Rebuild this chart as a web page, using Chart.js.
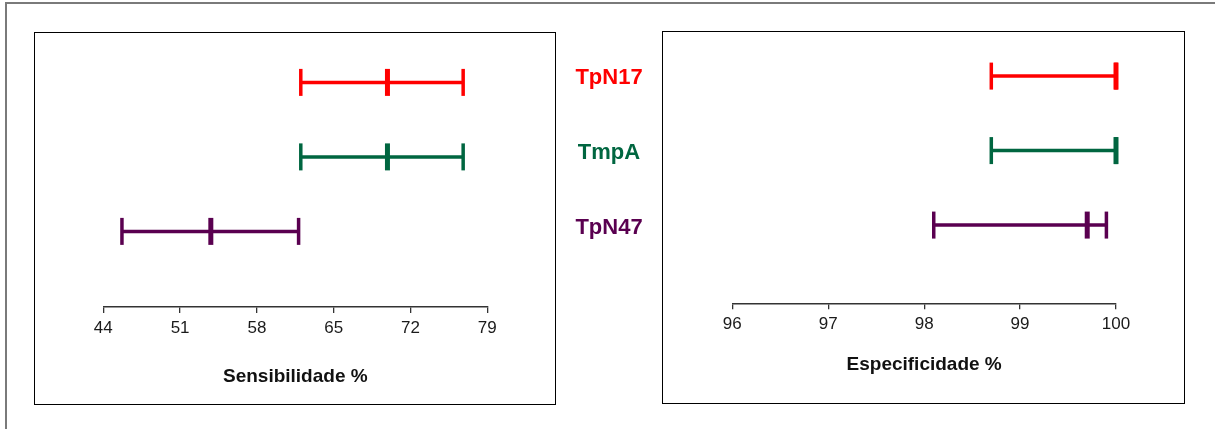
<!DOCTYPE html>
<html>
<head>
<meta charset="utf-8">
<script src="https://cdn.jsdelivr.net/npm/chart.js@4.4.1/dist/chart.umd.min.js"></script>
<style>
  html, body { margin: 0; padding: 0; background: #fff; }
  body { width: 1215px; height: 429px; position: relative; overflow: hidden; font-family: "Liberation Sans", Arial, sans-serif; }
  .frame { position: absolute; left: 5px; top: 2px; width: 1300px; height: 500px; border-left: 2px solid #7a7a7a; border-top: 2px solid #7a7a7a; }
  .panel { position: absolute; border: 1px solid #000; box-sizing: border-box; }
  canvas { position: absolute; left: 0; top: 0; }
  .lbl { position: absolute; width: 140px; margin-left: -70px; text-align: center; font-weight: bold; font-size: 22px; line-height: 22px; margin-top: -12px; font-family: "Liberation Sans", Arial, sans-serif; }
</style>
</head>
<body>
<div class="frame"></div>
<div class="panel" style="left:34px;top:32px;width:522px;height:373px;"></div>
<div class="panel" style="left:662px;top:31px;width:523px;height:373px;"></div>
<canvas id="c1" width="1215" height="429"></canvas>
<canvas id="c2" width="1215" height="429"></canvas>
<div id="labels"></div>
<script>
// ---- data ----
const categories = ['TpN17', 'TmpA', 'TpN47'];
const colors = ['#FF0000', '#006640', '#5A0050'];
const rowPos = [3, 2, 1];
const sensLow = [62.0, 62.0, 45.7];
const sensPoint = [69.9, 69.9, 53.8];
const sensHigh = [76.8, 76.8, 61.8];
const specLow = [98.7, 98.7, 98.1];
const specPoint = [100, 100, 99.7];
const specHigh = [100, 100, 99.9];
const sensTicks = [44, 51, 58, 65, 72, 79];
const specTicks = [96, 97, 98, 99, 100];
const sensTitle = 'Sensibilidade %';
const specTitle = 'Especificidade %';

const FONT = '"Liberation Sans", Arial, sans-serif';

function makeDatasets(low, pt, high) {
  return categories.map((c, i) => ({
    label: c,
    data: [
      { x: low[i], y: rowPos[i] },
      { x: pt[i], y: rowPos[i] },
      { x: high[i], y: rowPos[i] }
    ],
    borderColor: colors[i],
    backgroundColor: colors[i],
    borderWidth: 3.5,
    borderCapStyle: 'butt',
    pointStyle: 'line',
    pointRotation: 90,
    pointRadius: 13.5,
    pointHoverRadius: 13.5,
    pointBorderWidth: [3.5, 5, 3.5],
    pointBorderColor: colors[i],
    pointBackgroundColor: colors[i],
    fill: false,
    tension: 0,
    clip: false
  }));
}

function makeChart(id, low, pt, high, ticks, title, pad, yMin, titlePad) {
  return new Chart(document.getElementById(id), {
    type: 'line',
    data: { datasets: makeDatasets(low, pt, high) },
    options: {
      responsive: false,
      animation: false,
      devicePixelRatio: 1,
      events: [],
      layout: { padding: pad, autoPadding: false },
      plugins: { legend: { display: false }, tooltip: { enabled: false } },
      scales: {
        x: {
          type: 'linear',
          position: 'bottom',
          min: ticks[0],
          max: ticks[ticks.length - 1],
          afterFit: s => { s.height = 90; },
          afterBuildTicks: s => { s.ticks = ticks.map(v => ({ value: v })); },
          ticks: {
            font: { family: FONT, size: 17 },
            color: '#1a1a1a',
            padding: 5,
            autoSkip: false,
            maxRotation: 0
          },
          grid: { drawOnChartArea: false, drawTicks: true, tickLength: 6, color: '#333', lineWidth: 1.3 },
          border: { display: true, color: '#333', width: 1.5 },
          title: {
            display: true,
            text: title,
            color: '#111',
            font: { family: FONT, size: 19, weight: 'bold' },
            padding: { top: 0, bottom: titlePad }
          }
        },
        y: {
          type: 'linear',
          display: false,
          min: yMin,
          max: 4
        }
      }
    }
  });
}

// left: axis 44..79 from x=103.3 to 487.3, axis line at y=307
makeChart('c1', sensLow, sensPoint, sensHigh, sensTicks, sensTitle,
  { left: 103.3, right: 1215 - 487.3, top: 7.9, bottom: 32 }, -0.015, 9);
// right: axis 96..100 from x=732.3 to 1116, axis line at y=303.3
makeChart('c2', specLow, specPoint, specHigh, specTicks, specTitle,
  { left: 732.3, right: 1215 - 1116, top: 1.6, bottom: 35.7 }, -0.05, 17);

// category labels between the panels
const labelY = [78, 153.3, 228.3];
const holder = document.getElementById('labels');
categories.forEach((c, i) => {
  const d = document.createElement('div');
  d.className = 'lbl';
  d.textContent = c;
  d.style.color = colors[i];
  d.style.left = '609px';
  d.style.top = labelY[i] + 'px';
  holder.appendChild(d);
});
</script>
</body>
</html>
